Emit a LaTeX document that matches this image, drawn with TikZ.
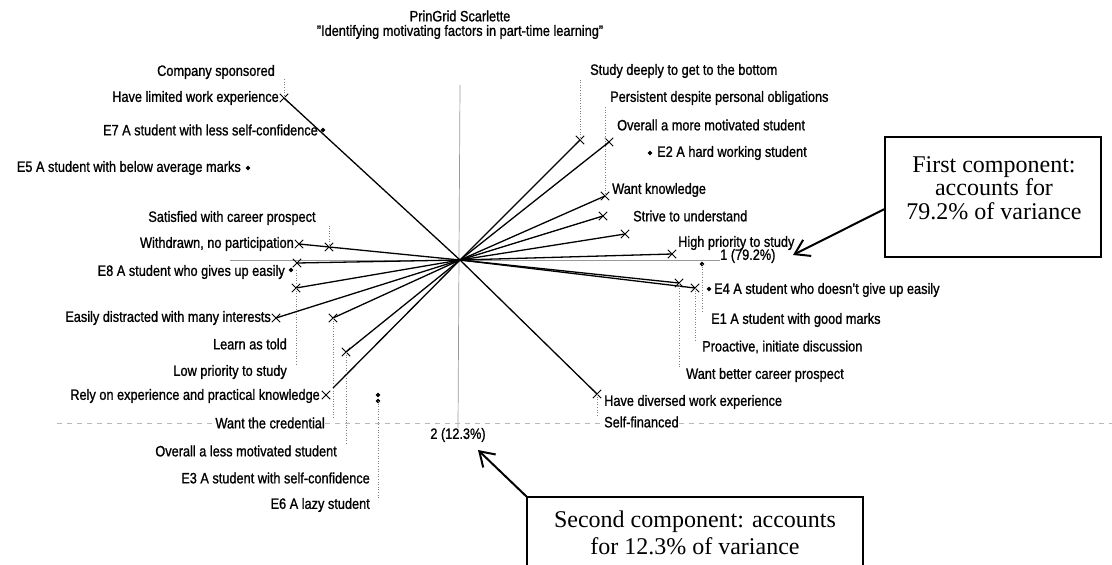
\documentclass[tikz,border=0pt]{standalone}
\usepackage{fontspec}
\setmainfont{Liberation Sans}[FakeStretch=0.85,FakeBold=1]
\newfontfamily\callfont{Liberation Serif}
\usetikzlibrary{shapes.misc,shapes.geometric,arrows.meta,calc}
\newcommand\lblsize{\fontsize{15}{17}\selectfont}
\begin{document}
\begin{tikzpicture}[x=1pt,y=-1pt,
  lbl/.style={font=\lblsize,inner sep=0pt},
  xm/.style={cross out,draw,minimum size=7.5pt,inner sep=0pt,line width=0.9pt},
  dm/.style={diamond,fill,minimum size=5pt,inner sep=0pt},
  vec/.style={line width=1.3pt},
  lead/.style={dotted,gray,line width=0.6pt},
  axisline/.style={gray!80,line width=0.7pt},
  baseline dash/.style={gray!55,dash pattern=on 5pt off 5pt,line width=0.6pt},
  callbox/.style={draw,line width=1.5pt,inner sep=0pt},
  calltext/.style={font=\callfont\fontsize{24}{23.5}\selectfont,align=center,inner sep=0pt},
  calltexttwo/.style={font=\callfont\fontsize{24}{27}\selectfont,align=center,inner sep=0pt},
  callarrow/.style={line width=2pt,-{Straight Barb[length=14pt,width=18pt]}}]
\useasboundingbox (0,0) rectangle (1112,565);
\fill[white] (0,0) rectangle (1112,565);

% title
\node[lbl] (t1) at (460,16) {PrinGrid Scarlette};
\node[lbl] (t2) at (460,32) {"Identifying motivating factors in part-time learning"};

\coordinate (O) at (460,260);

% axes
\coordinate (vt) at (460,85);
\node[lbl] (ax2) at (458,435) {2 (12.3\%)};
\draw[axisline] (vt) -- (ax2.north);
\coordinate (hl) at (230,260);
\node[lbl,anchor=west] (ax1) at (720,256) {1 (79.2\%)};
\draw[axisline] (hl) -- (ax1.west |- O);

% left labels and markers
\node[lbl] (cs) at (216,72) {Company sponsored};
\node[lbl,anchor=east] (hlw) at (279,98) {Have limited work experience};
\node[xm] (mhlw) at (284,98) {};
\node[lbl,anchor=east] (e7) at (318,130) {E7 A student with less self-confidence};
\node[dm] (de7) at (323,130) {};
\node[lbl,anchor=east] (e5) at (241,168) {E5 A student with below average marks};
\node[dm] (de5) at (248,168) {};
\node[lbl] (sat) at (232,218) {Satisfied with career prospect};
\node[lbl,anchor=east] (wd) at (294,244) {Withdrawn, no participation};
\node[xm] (mwd) at (299,244) {};
\node[xm] (msat) at (329,247) {};
\node[lbl,anchor=east] (e8) at (285,272) {E8 A student who gives up easily};
\node[dm] (de8) at (291,270) {};
\node[xm] (mlo1) at (297,263) {};
\node[xm] (mlo2) at (296,288) {};
\node[lbl,anchor=east] (ed) at (271,318) {Easily distracted with many interests};
\node[xm] (med) at (276,318) {};
\node[xm] (mwc) at (333,318) {};
\node[lbl,anchor=east] (lat) at (287,344) {Learn as told};
\node[lbl,anchor=east] (lps) at (287,372) {Low priority to study};
\node[xm] (mol) at (346,352) {};
\node[lbl,anchor=east] (rely) at (320,396) {Rely on experience and practical knowledge};
\node[xm] (mrely) at (326,395) {};
\coordinate (rend) at (333,388);
\node[dm] (de3) at (378,395) {};
\node[dm] (de6) at (378,401) {};
\node[lbl,anchor=east] (wc) at (325,423) {Want the credential};
\node[lbl,anchor=east] (ol) at (337,451) {Overall a less motivated student};
\node[lbl,anchor=east] (e3) at (370,478) {E3 A student with self-confidence};
\node[lbl,anchor=east] (e6) at (370,505) {E6 A lazy student};

% right labels and markers
\node[lbl,anchor=west] (sd) at (590,71) {Study deeply to get to the bottom};
\node[xm] (msd) at (580,140) {};
\node[lbl,anchor=west] (pers) at (610,98) {Persistent despite personal obligations};
\node[xm] (mpers) at (609,142) {};
\node[lbl,anchor=west] (om) at (617,125) {Overall a more motivated student};
\node[dm] (de2) at (650,153) {};
\node[lbl,anchor=west] (e2) at (657,153) {E2 A hard working student};
\node[xm] (mwk) at (605,196) {};
\node[lbl,anchor=west] (wk) at (612,190) {Want knowledge};
\node[xm] (msu) at (603,216) {};
\node[lbl,anchor=west] (su) at (633,216) {Strive to understand};
\node[xm] (mx1) at (625,234) {};
\node[xm] (mhp) at (672,254) {};
\node[lbl,anchor=west] (hp) at (678,243) {High priority to study};
\node[dm] (de1) at (702,264) {};
\node[xm] (mwb) at (679,283) {};
\node[xm] (mpro) at (695,288) {};
\node[dm] (de4) at (709,289) {};
\node[lbl,anchor=west] (e4) at (714,290) {E4 A student who doesn't give up easily};
\node[lbl,anchor=west] (e1) at (711,320) {E1 A student with good marks};
\node[lbl,anchor=west] (pro) at (702,347) {Proactive, initiate discussion};
\node[lbl,anchor=west] (wb) at (686,375) {Want better career prospect};
\node[xm] (mhd) at (597,394) {};
\node[lbl,anchor=west] (hd) at (604,402) {Have diversed work experience};
\node[lbl,anchor=west] (sf) at (604,422) {Self-financed};

% vectors
\foreach \m in {mhlw,mwd,mlo1,mlo2,med,mwc,mol,msd,mpers,mwk,msu,mx1,mhp,mwb,mpro,mhd}
  \draw[vec] (O) -- (\m.center);
\draw[vec] (O) -- (rend);

% leaders
\draw[lead] (mhlw.center) -- (mhlw.center |- cs.south);
\draw[lead] (msat.center) -- (msat.center |- sat.south);
\draw[lead] (mlo2.center |- de8.center) -- (mlo2.center |- lps.north);
\draw[lead] (mwc.center) -- (mwc.center |- wc.north);
\draw[lead] (mol.center) -- (mol.center |- ol.north);
\draw[lead] (de6.center) -- (de6.center |- e6.north);
\draw[lead] (msd.center) -- (msd.center |- sd.south);
\draw[lead] (mwk.center) -- (mwk.center |- pers.south);
\draw[lead] (de1.center) -- (de1.center |- e1.north);
\draw[lead] (mpro.center) -- (mpro.center |- pro.north);
\draw[lead] (mwb.center) -- (mwb.center |- wb.north);
\draw[lead] (mhd.center) -- (mhd.center |- sf.north);

% faint baseline
\coordinate (bl) at (57,423);
\coordinate (br) at (1112,423);
\draw[baseline dash] (bl) -- (wc.west |- bl);
\draw[baseline dash] (wc.east |- bl) -- (sf.west |- bl);
\draw[baseline dash] (sf.east |- bl) -- (br);

% callout 1
\node[callbox,minimum width=216pt,minimum height=120pt] (b1) at (993,197) {};
\node[calltext] (b1t) at (994,188) {First component:\\accounts for\\79.2\% of variance};
\coordinate (a1tip) at (793,255);
\draw[callarrow] ($(b1.north west)!0.6!(b1.south west)$) -- (a1tip);

% callout 2
\coordinate (b2nw) at (527,497);
\coordinate (b2ne) at (863,497);
\coordinate (b2sw) at (527,565);
\coordinate (b2se) at (863,565);
\draw[line width=1.5pt] (b2sw) -- (b2nw) -- (b2ne) -- (b2se);
\node[calltexttwo] (b2t) at (695,533) {Second component: accounts\\for 12.3\% of variance};
\coordinate (a2tip) at (478,450);
\draw[callarrow] (b2nw) -- (a2tip);
\end{tikzpicture}
\end{document}
